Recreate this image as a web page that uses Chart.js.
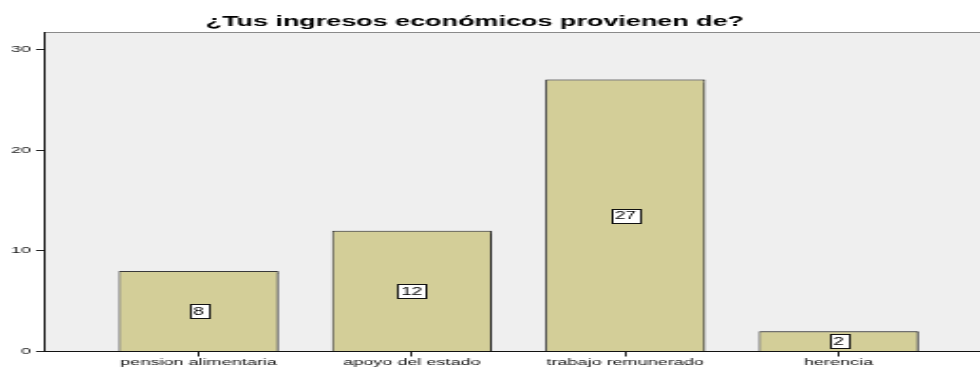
<!DOCTYPE html>
<html>
<head>
<meta charset="utf-8">
<script src="https://cdn.jsdelivr.net/npm/chart.js@4/dist/chart.umd.min.js"></script>
<style>
  html, body { margin: 0; padding: 0; background: #ffffff; overflow: hidden; }
  #chart { display: block; width: 980px; height: 367px; }
</style>
</head>
<body>
<canvas id="chart" width="516" height="367"></canvas>
<script>
// Categories, counts and axis ticks
const categories = ['pension alimentaria', 'apoyo del estado', 'trabajo remunerado', 'herencia'];
const counts = [8, 12, 27, 2];
const yTicks = [0, 10, 20, 30];
const chartTitle = '¿Tus ingresos económicos provienen de?';

// The drawing surface is rendered narrow and widened by CSS, giving the broad lettering
const FONT = "'Liberation Sans', Arial, sans-serif";

// Grey plot background with a thin frame line along the top
const plotBackground = {
  id: 'plotBackground',
  beforeDraw(chart) {
    const { ctx, chartArea: a } = chart;
    ctx.save();
    ctx.fillStyle = '#ffffff';
    ctx.fillRect(0, 0, chart.width, chart.height);
    ctx.fillStyle = '#efefef';
    ctx.fillRect(a.left, a.top, a.right - a.left, a.bottom - a.top);
    ctx.strokeStyle = '#8a8a8a';
    ctx.lineWidth = 1;
    ctx.beginPath();
    ctx.moveTo(a.left, Math.round(a.top) + 0.5);
    ctx.lineTo(a.right, Math.round(a.top) + 0.5);
    ctx.stroke();
    ctx.restore();
  }
};

// Soft shadow on the right side of each bar
const barShadow = {
  id: 'barShadow',
  beforeDatasetsDraw(chart) {
    const ctx = chart.ctx;
    ctx.save();
    ctx.shadowColor = 'rgba(0,0,0,0.35)';
    ctx.shadowOffsetX = 1;
    ctx.shadowOffsetY = 0;
    ctx.shadowBlur = 1;
  },
  afterDatasetsDraw(chart) {
    chart.ctx.restore();
  }
};

// Boxed count label in the middle of each bar
const countLabels = {
  id: 'countLabels',
  afterDatasetsDraw(chart) {
    const { ctx } = chart;
    const meta = chart.getDatasetMeta(0);
    const yScale = chart.scales.y;
    ctx.save();
    ctx.font = '10px ' + FONT;
    ctx.textAlign = 'center';
    ctx.textBaseline = 'middle';
    meta.data.forEach((bar, i) => {
      const value = counts[i];
      const text = String(value);
      const cx = bar.x;
      const cy = yScale.getPixelForValue(value / 2);
      const w = ctx.measureText(text).width + 4;
      const h = 14;
      const x0 = Math.round(cx - w / 2) + 0.5;
      const y0 = Math.round(cy - h / 2) + 0.5;
      ctx.fillStyle = '#ffffff';
      ctx.fillRect(x0, y0, Math.round(w), h);
      ctx.strokeStyle = '#111111';
      ctx.lineWidth = 1;
      ctx.strokeRect(x0, y0, Math.round(w), h);
      ctx.fillStyle = '#000000';
      ctx.fillText(text, cx, cy + 1);
    });
    ctx.restore();
  }
};

// Nudge the title a little to the left of the canvas centre
const titleShift = {
  id: 'titleShift',
  afterLayout(chart) {
    if (chart.titleBlock) {
      chart.titleBlock.left -= 8;
      chart.titleBlock.right -= 8;
    }
  }
};

const chart = new Chart(document.getElementById('chart'), {
  type: 'bar',
  data: {
    datasets: [{
      data: counts.map((v, i) => ({ x: i, y: v })),
      backgroundColor: '#d3ce98',
      borderColor: '#3a3a3a',
      borderWidth: 1,
      borderSkipped: 'start',
      barPercentage: 0.75,
      categoryPercentage: 1
    }]
  },
  options: {
    responsive: false,
    devicePixelRatio: 1,
    animation: false,
    events: [],
    layout: { padding: 0 },
    plugins: {
      legend: { display: false },
      tooltip: { enabled: false },
      title: {
        display: true,
        text: chartTitle,
        color: '#000000',
        font: { family: FONT, size: 14.2, weight: 'bold', lineHeight: 1.2 },
        padding: { top: 13.5, bottom: 1.5 }
      }
    },
    scales: {
      x: {
        type: 'linear',
        min: -0.724,
        max: 3.663,
        offset: false,
        afterBuildTicks(scale) {
          scale.ticks = categories.map((_, i) => ({ value: i }));
        },
        afterFit(scale) { scale.height = 15.5; },
        border: { display: true, color: '#111111', width: 1 },
        grid: { display: true, offset: false, drawOnChartArea: false, drawTicks: true, tickLength: 5, color: '#222222', lineWidth: 1 },
        ticks: {
          autoSkip: false,
          maxRotation: 0,
          padding: 0.5,
          color: '#111111',
          font: { family: FONT, size: 9.5 },
          callback: (v) => categories[v]
        }
      },
      y: {
        min: 0,
        max: 31.72,
        afterBuildTicks(scale) {
          scale.ticks = yTicks.map(v => ({ value: v }));
        },
        afterFit(scale) { scale.width = 23.2; },
        border: { display: true, color: '#111111', width: 1 },
        grid: { display: true, drawOnChartArea: false, drawTicks: true, tickLength: 4.2, color: '#222222', lineWidth: 1 },
        ticks: {
          padding: 2.7,
          color: '#222222',
          font: { family: FONT, size: 9.5 }
        }
      }
    }
  },
  plugins: [plotBackground, barShadow, countLabels, titleShift]
});

const cv = document.getElementById('chart');
cv.style.width = '980px';
cv.style.height = '367px';
</script>
</body>
</html>
